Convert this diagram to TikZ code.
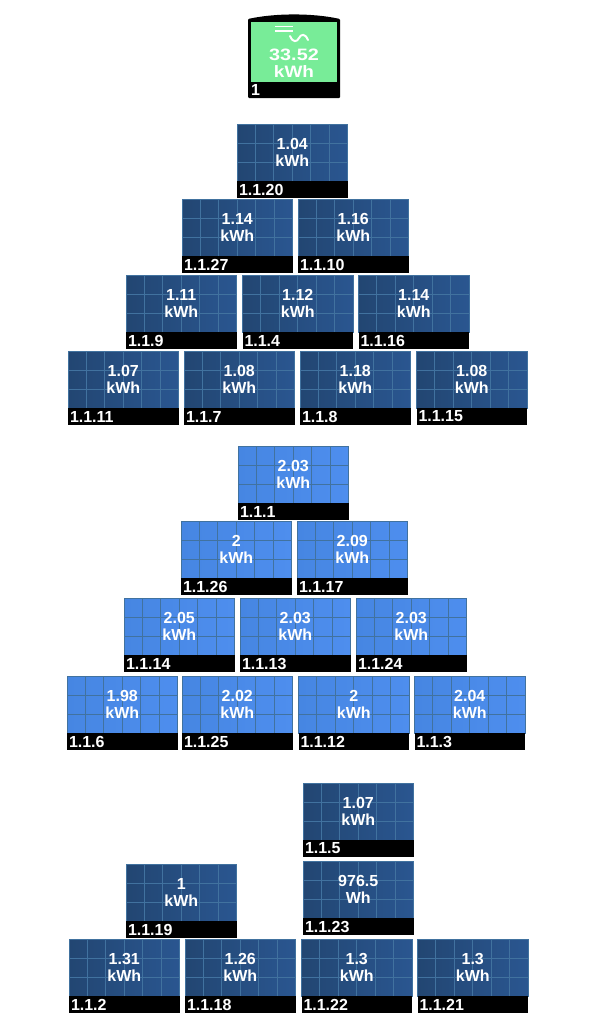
\documentclass[tikz,border=0pt]{standalone}
\usepackage{fontspec}
\setmainfont{Liberation Sans}
\usetikzlibrary{positioning}
\definecolor{gridline}{HTML}{41729F}
\definecolor{meterg}{HTML}{78EC98}
\definecolor{darkl}{HTML}{224672}
\definecolor{darkr}{HTML}{2A5690}
\definecolor{lightl}{HTML}{4686E2}
\definecolor{lightr}{HTML}{4E8EEE}
\tikzset{
  idbar/.style={fill=black, text=white, anchor=north, outer sep=0pt,
    inner xsep=2pt, inner ysep=0pt, text width=106.5pt, minimum height=17pt,
    font=\fontsize{16}{17}\selectfont\bfseries},
  panel/.style={rectangle, draw=gridline, line width=0.8pt, outer sep=0pt, inner sep=0pt,
    minimum width=110.5pt, minimum height=57pt, align=center, text=white,
    font=\fontsize{16}{17}\selectfont\bfseries, anchor=north west,
    label distance=0pt, label={[idbar]below:#1},
    path picture={
      \foreach \i in {1,...,5}
        \draw[gridline, line width=1pt] ([xshift=\i*18.4pt]path picture bounding box.south west) -- ([xshift=\i*18.4pt]path picture bounding box.north west);
      \foreach \j in {1,2}
        \draw[gridline, line width=1pt] ([yshift=\j*19pt]path picture bounding box.south west) -- ([yshift=\j*19pt]path picture bounding box.south east);
    }},
  darkpanel/.style={panel=#1, left color=darkl, right color=darkr},
  lightpanel/.style={panel=#1, left color=lightl, right color=lightr}
}
\begin{document}
\begin{tikzpicture}[x=1pt, y=-1pt]
  \useasboundingbox (0,0) rectangle (590,1020);
  % meter
  \fill[black, rounded corners=1pt] (248,98) -- (248,19) .. controls (275,13) and (313,13) .. (340,19) -- (340,98) -- cycle;
  \node[rectangle, fill=meterg, inner sep=0pt, outer sep=0pt, minimum width=86pt, minimum height=60pt] (screen) at (294,52) {};
  \draw[white, line width=1.7pt] (275,26.5) -- (293,26.5) (275,31) -- (293,31);
  \draw[white, line width=2pt, line cap=round] (290,36) .. controls (293,43) and (297,42) .. (299,38) .. controls (301,34) and (305,33) .. (308,40);
  \node[align=center, text=white, inner sep=0pt, font=\fontsize{16.5}{17}\selectfont\bfseries] (meterval) at (294,63.5) {\scalebox{1.2}[1]{33.52}\\\scalebox{1.15}[1]{kWh}};
  \node[anchor=west, text=white, inner sep=0pt, font=\fontsize{16}{17}\selectfont\bfseries] (meterid) at (251,90) {1};

  % first group
  \node[darkpanel=1.1.20] (p20) at (237,124) {1.04\\kWh};
  \node[darkpanel=1.1.27] (p27) at (182,199) {1.14\\kWh};
  \node[darkpanel=1.1.10] (p10) [right=5.5pt of p27] {1.16\\kWh};
  \node[darkpanel=1.1.9] (p9) at (126,275) {1.11\\kWh};
  \node[darkpanel=1.1.4] (p4) [right=6pt of p9] {1.12\\kWh};
  \node[darkpanel=1.1.16] (p16) [right=5.5pt of p4] {1.14\\kWh};
  \node[darkpanel=1.1.11] (p11) at (68,351) {1.07\\kWh};
  \node[darkpanel=1.1.7] (p7) [right=5.5pt of p11] {1.08\\kWh};
  \node[darkpanel=1.1.8] (p8) [right=5.5pt of p7] {1.18\\kWh};
  \node[darkpanel=1.1.15] (p15) [right=6pt of p8] {1.08\\kWh};

  % second group
  \node[lightpanel=1.1.1] (p1) at (238,446) {2.03\\kWh};
  \node[lightpanel=1.1.26] (p26) at (181,521) {2\\kWh};
  \node[lightpanel=1.1.17] (p17) [right=5.5pt of p26] {2.09\\kWh};
  \node[lightpanel=1.1.14] (p14) at (124,598) {2.05\\kWh};
  \node[lightpanel=1.1.13] (p13) [right=5.5pt of p14] {2.03\\kWh};
  \node[lightpanel=1.1.24] (p24) [right=5.5pt of p13] {2.03\\kWh};
  \node[lightpanel=1.1.6] (p6) at (67,676) {1.98\\kWh};
  \node[lightpanel=1.1.25] (p25) [right=4.5pt of p6] {2.02\\kWh};
  \node[lightpanel=1.1.12] (p12) [right=6pt of p25] {2\\kWh};
  \node[lightpanel=1.1.3] (p3) [right=5.5pt of p12] {2.04\\kWh};

  % third group
  \node[darkpanel=1.1.5] (p5) at (303,783) {1.07\\kWh};
  \node[darkpanel=1.1.23] (p23) at (303,861) {976.5\\Wh};
  \node[darkpanel=1.1.19] (p19) at (126,864) {1\\kWh};
  \node[darkpanel=1.1.2] (p2) at (69,939) {1.31\\kWh};
  \node[darkpanel=1.1.18] (p18) [right=5.5pt of p2] {1.26\\kWh};
  \node[darkpanel=1.1.22] (p22) [right=6pt of p18] {1.3\\kWh};
  \node[darkpanel=1.1.21] (p21) [right=5.5pt of p22] {1.3\\kWh};
\end{tikzpicture}
\end{document}
